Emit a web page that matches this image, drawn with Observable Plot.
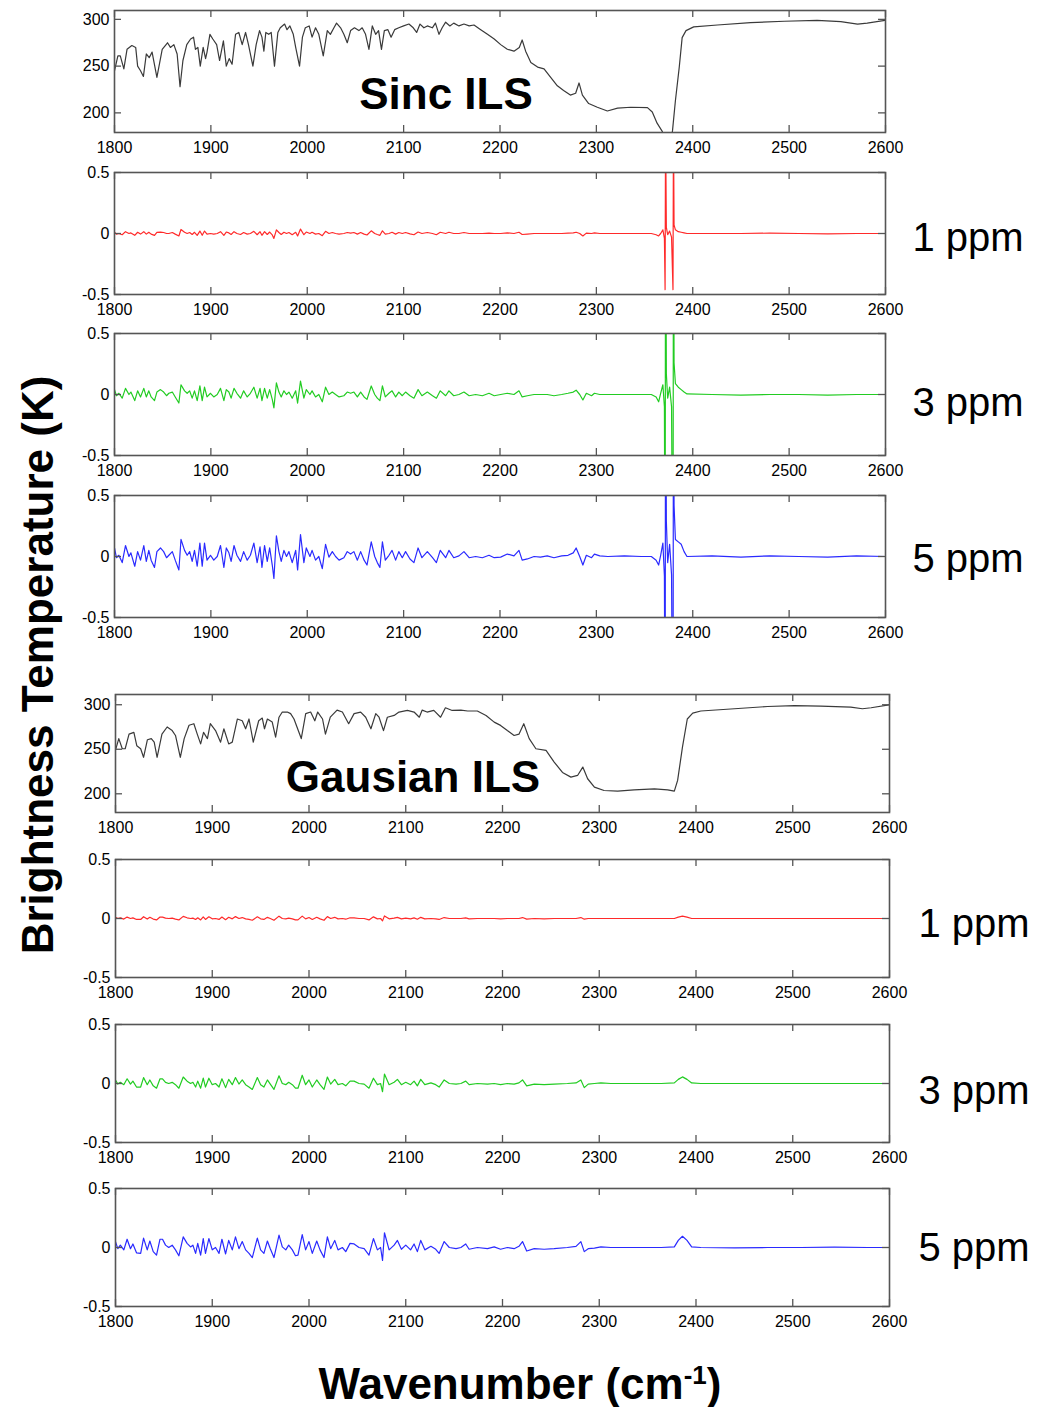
<!DOCTYPE html>
<html><head><meta charset="utf-8">
<script src="https://cdn.jsdelivr.net/npm/d3@7"></script>
<script src="https://cdn.jsdelivr.net/npm/@observablehq/plot@0.6"></script>
<style>
html,body{margin:0;padding:0;background:#fff;overflow:hidden}
#wrap{position:relative;width:1039px;height:1407px;font-family:"Liberation Sans",Arial,Helvetica,sans-serif;background:#fff}
.lab{position:absolute;transform:translate(-50%,-50%);white-space:nowrap;line-height:1;color:#000}
.panel{position:absolute;left:0}
</style></head><body><div id="wrap"></div>
<script>
// ---------- tick labels ----------
const xTicks = [1800,1900,2000,2100,2200,2300,2400,2500,2600];
const specTicks = [200,250,300];
const resTicks = [-0.5,0,0.5];

// ---------- Sinc ILS brightness temperature spectrum (K) ----------
const sincSpecX = [1800,1803.5,1806,1809.7,1813,1818,1822,1824,1827,1830,1833,1836,1839,1844,1849.5,1855,1858,1861.6,1865,1868,1871,1875,1879,1882,1884,1886.5,1889,1892,1894.5,1896,1899,1902,1906,1909,1913,1916,1919,1922,1925.6,1929,1932.5,1936,1939,1943.6,1947,1950.5,1953,1955,1957,1960,1962.6,1966,1969.5,1972,1976.5,1979,1982,1985.5,1988,1992,1995,1998,2002,2005,2008.6,2012,2016.6,2020.8,2024,2027.7,2030.4,2034.6,2038,2041.5,2045,2049,2053.6,2057,2060.5,2064,2067.5,2071,2074,2077,2080,2083.7,2087,2090.7,2095,2100,2105.5,2110,2113.5,2117,2121,2124.6,2129.8,2133,2136.7,2140,2143.6,2148,2152,2157.4,2162.6,2168,2173,2180,2187,2194,2200.7,2207.6,2214.5,2220,2223,2226.6,2232,2239,2245.7,2252.6,2259.5,2266,2273,2278.5,2282,2285.5,2292,2301,2311.4,2322,2335.6,2353,2358,2363,2368.5,2372,2376,2379,2382,2386,2389,2393,2401,2425.6,2460,2495,2529,2553.6,2571,2581,2600];
const sincSpecY = [245,261,261,247,268,272,270,250,245,239,263,259,265,238,268,275,270,273,263,228,256,273,279,281,268,270,250,270,258,265,284,279,273,256,277,250,258,252,284,286,273,286,273,250,273,288,281,266,286,284,286,250,286,291,295,289,293,284,270,250,281,291,293,281,291,284,261,288,284,291,296,291,284,275,288,291,288,291,284,268,293,284,288,268,288,289,281,289,291,293,295,291,286,295,291,293,291,296,284,291,297,293,296,293,295,293,294,289,284,279,273,268,266,270,278,266,254,249,247,238,229,224,219,221,232,219,210,206,202,205,206,205.6,201,189,180,165,160,181,213,249,280.5,288,292,294,296.5,298,299,297.5,295,296,299];

// ---------- Gaussian ILS brightness temperature spectrum (K) ----------
const gaussSpecX = [1800,1803.4,1807,1810,1814,1819,1822,1826,1829,1833,1837,1840,1843,1848,1853.4,1858.6,1862,1867,1871,1876,1881,1884.5,1888,1891,1895,1898,1903.4,1908.6,1912,1917,1920.7,1926,1931,1934.5,1938,1942.4,1948,1951.7,1954,1957,1962,1965.5,1969,1972.4,1977.6,1981,1984.5,1992,1996.6,2001.7,2006,2009,2014,2017,2022,2029,2034.5,2041,2046.6,2053.4,2058.6,2064,2069,2072.4,2077,2081,2088,2093,2101.7,2108.6,2114,2117,2122,2129,2136,2141,2148,2157,2164,2174,2183,2191.4,2198,2205,2212,2217,2222,2227.6,2234.5,2245,2253.4,2262,2270.7,2277.6,2283,2288,2295,2305,2319,2336,2357,2370.7,2377.6,2381,2386,2391,2396.6,2405,2439.7,2474,2501.7,2529,2560,2572,2581,2600];
const gaussSpecY = [249,262,250.6,250.6,267,269,254,250.6,241,260.7,262,258,241,267,275,271,265.5,241,262,277,278.7,267,256,269,262,278.7,271,258,273,256,258,284,282,273,284,258,282,285,273,284,280.5,263.7,286,291.8,291.8,290,284,262,290,291.8,282,291.8,284,267,286,294,291.8,278.7,290,291.8,286,273,290,286,271,286,288,291.8,293.6,291.8,286,294,291.8,293.6,286,296.6,293.6,294,293,293,288,280.5,276.8,271,265.5,267,278.7,262,250.6,248.7,235.6,224,218.7,220.6,230,216.9,207.5,203.7,203,204.5,205.6,204.5,203,215,252.4,284,290.6,293,295.5,298,299,298.5,297.4,295.5,296.6,300];

// ---------- Sinc ILS residuals (K): wavenumbers, 1/3/5 ppm ----------
const sincX = [1800,1802,1804.5,1808,1811.4,1815,1817,1821,1824,1827,
1830.4,1833,1835.6,1838,1841.5,1844,1847.7,1851,1854,1856.4,
1860,1863,1866.8,1869,1872.7,1875.4,1878,1880.6,1883,1885.8,
1888.6,1891,1893.4,1896,1899.6,1903,1906.6,1910,1913.5,1916,
1918.7,1921,1924,1927,1930.8,1934,1937.7,1941,1944.6,1948,
1951,1953,1955.7,1958.5,1961,1963.7,1965.4,1968,1970.6,1973,
1975.8,1978.5,1981,1984.4,1988,1990,1993,1996.5,1999,2002.8,
2005,2008.6,2012,2015.6,2019,2022.5,2026,2029.4,2033,2038,
2041.5,2045,2048.4,2052,2055.4,2059,2062,2066.4,2070,2072.7,
2075.4,2078,2081,2084.8,2088,2091.7,2095,2098.6,2102,2106.6,
2110.7,2115,2119,2124.6,2130,2134,2138,2143.6,2147,2152,
2157.4,2162.6,2168,2174.7,2181.7,2188.6,2194,2200.7,2207.6,2214.5,
2219.7,2223,2228.4,2235.3,2242,2249,2256,2264,2270.6,2276,
2279,2282.7,2286,2289.6,2295,2298,2303.5,2312,2329,2346.6,
2357,2362,2364.6,2366.7,2369,2370.6,2371.3,2371.8,2372.6,2374,
2376,2378,2379.5,2380,2380.6,2382,2385,2388,2391,2394,
2420,2450,2480,2510,2540,2570,2600];
const sinc1 = [0.01,-0.005,0,-0.01,0.015,0,0.005,-0.015,0.01,-0.005,
0.015,-0.005,0.01,-0.005,-0.015,0.01,0.012,0.008,0,0,
0.008,-0.005,-0.02,0.033,0.01,0,0.008,-0.008,0.01,-0.015,
0.02,-0.015,0.02,-0.005,0,-0.005,0,0.015,-0.015,0.012,
0.005,-0.008,0.015,0,-0.008,0.008,-0.005,0,0.018,-0.01,
0.015,-0.015,0.015,-0.008,0.012,-0.012,-0.04,0.03,0.008,-0.008,
0.01,0,0.008,-0.01,0.01,-0.02,0.036,-0.01,0.012,0,
0.01,-0.005,0,-0.018,0.018,0,0.008,0,-0.005,0,
0.008,0.003,0.008,-0.005,0.008,-0.005,-0.012,0.022,0,-0.008,
-0.015,0.022,-0.005,0,0.01,-0.005,0.008,0,0.008,-0.003,
-0.01,0.012,0,0.008,0,-0.01,0.01,0,0.01,0,
0,0.008,0,0,0,0.003,0,0,0.005,0,
0.01,-0.008,-0.005,0,0,0,0,0,0.003,0.005,
0.01,0,-0.02,0.003,0,0.005,0,0,0,0,
0,-0.01,-0.02,0,0.03,-0.04,-0.46,0.9,0.05,-0.01,
0.02,-0.03,-0.46,0.9,0.07,0.03,0.015,0.01,0.005,0,
0,0,0.003,0,-0.003,0,0];
const sinc3 = [0.04,-0.01,0.01,-0.03,0.05,0,0.02,-0.05,0.03,-0.02,
0.05,-0.02,0.03,-0.02,-0.05,0.02,0.04,0.02,-0.01,0.01,
0.02,-0.02,-0.07,0.08,0.03,0.01,0.03,-0.03,0.03,-0.05,
0.07,-0.05,0.06,-0.02,0.01,-0.02,0,0.05,-0.05,0.04,
0.02,-0.03,0.05,0.01,-0.03,0.03,-0.02,0.01,0.06,-0.03,
0.05,-0.05,0.05,-0.03,0.04,-0.04,-0.11,0.095,0.02,-0.02,
0.03,0,0.02,-0.03,0.03,-0.07,0.11,-0.03,0.04,0,
0.03,-0.02,0,-0.06,0.06,0,0.02,0,-0.02,-0.01,
0.02,0.01,0.02,-0.02,0.02,-0.02,-0.04,0.07,0,-0.03,
-0.05,0.07,-0.02,0.01,0.03,-0.02,0.02,-0.01,0.02,-0.01,
-0.03,0.04,-0.01,0.02,-0.01,-0.03,0.03,-0.01,0.03,-0.01,
0,0.02,-0.01,0,-0.01,0.01,-0.01,0,0.01,0,
0.03,-0.02,-0.01,0,0,0,-0.01,0,0.01,0.02,
0.035,0,-0.045,0.01,-0.01,0.01,0,0,0,0,
0,-0.02,-0.06,0.01,0.08,-0.1,-2,2,0.17,-0.03,
0.06,-0.1,-2,2,0.26,0.09,0.06,0.04,0.02,0.005,
0,-0.005,0,0,-0.005,0,0];
const sinc5 = [0.07,-0.01,0.01,-0.05,0.09,0,0.03,-0.08,0.04,-0.03,
0.09,-0.04,0.05,-0.03,-0.09,0.04,0.07,0.04,-0.01,0.01,
0.04,-0.03,-0.11,0.14,0.05,0.01,0.04,-0.04,0.05,-0.08,
0.11,-0.08,0.11,-0.03,0.01,-0.03,0,0.09,-0.09,0.07,
0.03,-0.04,0.09,0.01,-0.04,0.04,-0.03,0.01,0.11,-0.05,
0.08,-0.09,0.09,-0.04,0.07,-0.07,-0.18,0.17,0.04,-0.04,
0.05,0,0.04,-0.05,0.05,-0.11,0.18,-0.05,0.07,0,
0.05,-0.03,0,-0.1,0.1,-0.005,0.04,0,-0.03,-0.01,
0.04,0.02,0.04,-0.03,0.04,-0.03,-0.07,0.12,0,-0.05,
-0.09,0.12,-0.03,0.01,0.05,-0.03,0.04,-0.01,0.04,-0.02,
-0.05,0.07,-0.01,0.04,-0.01,-0.05,0.05,-0.01,0.05,-0.01,
0.005,0.04,-0.01,0,-0.01,0.01,-0.01,-0.005,0.02,0.005,
0.05,-0.03,-0.02,0,-0.005,0.005,-0.01,0.005,0.01,0.03,
0.07,0,-0.07,0.01,-0.01,0.02,0.005,0,0.005,0,
0,-0.03,-0.07,0.01,0.11,-0.16,-2,2,0.29,-0.05,
0.1,-0.15,-2,2,0.42,0.14,0.12,0.1,0.04,0,
0.005,-0.005,0.005,0,-0.005,0.005,0];

// ---------- Gaussian ILS residuals (K): wavenumbers, 1/3/5 ppm ----------
const gaussX = [1800,1802.4,1805,1808.6,1812,1815.5,1818,1821.7,1826,1829,
1832.8,1835.5,1839,1842.4,1846,1848.6,1851.7,1855,1858.6,1862,
1865.5,1870,1874,1877.6,1880,1882.8,1885,1888,1890.7,1893,
1896.5,1900,1903.4,1907,1910,1913.8,1917,1920.7,1924,1927.6,
1931,1934.5,1938,1941.4,1946.6,1950,1953.4,1957,1960,1963.8,
1969,1972.4,1976,1979,1982.8,1986,1988.6,1993,1996.5,2000,
2003.4,2008,2011.4,2015.5,2019,2022.4,2026.6,2030,2034.5,2038,
2042.4,2046.6,2051.7,2057,2062,2066.6,2070.7,2074,2076,2078,
2082.8,2088,2091.4,2095.5,2100,2105,2108.6,2112,2115.5,2119.7,
2126,2131,2134.5,2139.7,2145,2152,2157,2162,2165.5,2174,
2184.5,2191.4,2198,2205,2212,2217,2220.7,2225,2232.8,2243,
2253.4,2267,2276,2281,2284.5,2288.6,2295,2301.7,2312,2336,
2364,2377.6,2381.7,2386,2390.7,2395.5,2405,2439.7,2474,2508.6,
2543,2577.6,2600];
const gauss1 = [0.01,0,0.005,-0.005,0.012,0,0.005,-0.008,-0.008,0.015,
-0.005,0.01,-0.005,-0.012,0.012,0.012,0.003,0,0.003,-0.005,
-0.012,0.018,0.006,0,0.003,-0.008,0.006,-0.012,0.014,-0.008,
0.014,-0.003,0,-0.008,0.012,-0.01,0.01,-0.003,0.016,0,
0.008,-0.003,-0.008,-0.015,0.014,-0.003,-0.008,0.01,0,-0.015,
0.02,0,-0.003,0.003,-0.003,-0.012,-0.012,0.02,-0.003,0.008,
-0.008,0.01,-0.003,-0.015,0.016,0,0.01,-0.003,0,-0.006,
0.006,0.005,0,0,-0.012,0.014,-0.003,0,-0.02,0.022,
-0.003,0.003,0.01,-0.003,0.003,-0.003,0.005,-0.006,0.01,-0.003,
0,-0.003,-0.008,0.008,0,0,0,0.005,-0.003,0,
0,0,-0.003,0,0,0,0.008,-0.005,0,-0.003,
0,0,0,0.008,-0.006,0,0,0,0,0,
0,0,0.012,0.02,0.012,0,0,0,0,0,
0,0,0];
const gauss3 = [0.03,-0.005,0.01,-0.01,0.04,-0.005,0.02,-0.03,-0.03,0.05,
-0.01,0.03,-0.02,-0.04,0.04,0.04,0.01,0,0.01,-0.01,
-0.04,0.055,0.02,0,0.01,-0.03,0.02,-0.04,0.045,-0.03,
0.045,-0.01,0,-0.03,0.04,-0.035,0.035,-0.01,0.05,-0.005,
0.03,-0.01,-0.03,-0.05,0.05,-0.01,-0.03,0.03,-0.005,-0.05,
0.065,0,-0.01,0.01,-0.01,-0.04,-0.04,0.07,-0.01,0.03,
-0.03,0.03,-0.01,-0.05,0.055,-0.005,0.035,-0.01,0,-0.02,
0.02,0.02,0,-0.005,-0.04,0.045,-0.01,0,-0.07,0.08,
-0.01,0.01,0.035,-0.01,0.01,-0.01,0.02,-0.02,0.035,-0.01,
0.005,-0.01,-0.03,0.03,0,-0.005,0,0.02,-0.01,0,
-0.005,0,-0.01,0,-0.005,0.005,0.03,-0.02,-0.005,-0.01,
-0.005,0,0.005,0.03,-0.035,-0.005,0,0.005,0,0,
0,0.005,0.035,0.056,0.035,0.005,0,0,0,0,
0,0,0];
const gauss5 = [0.05,-0.01,0.02,-0.02,0.07,-0.01,0.03,-0.045,-0.05,0.08,
-0.02,0.055,-0.035,-0.065,0.07,0.07,0.02,0,0.02,-0.02,
-0.07,0.09,0.035,0.005,0.02,-0.05,0.035,-0.065,0.076,-0.05,
0.076,-0.02,0,-0.05,0.07,-0.055,0.06,-0.02,0.09,-0.01,
0.05,-0.02,-0.05,-0.085,0.08,-0.02,-0.05,0.055,-0.01,-0.085,
0.105,0.005,-0.02,0.02,-0.02,-0.07,-0.065,0.11,-0.02,0.05,
-0.05,0.055,-0.02,-0.085,0.09,-0.01,0.06,-0.02,0,-0.035,
0.035,0.03,0,-0.01,-0.065,0.076,-0.02,0,-0.11,0.125,
-0.02,0.02,0.06,-0.015,0.02,-0.02,0.03,-0.035,0.06,-0.02,
0.01,-0.015,-0.05,0.05,0,-0.01,0,0.03,-0.015,0,
-0.01,0.005,-0.015,0,-0.01,0.01,0.05,-0.03,-0.01,-0.015,
-0.01,0,0.01,0.05,-0.035,-0.01,-0.005,0.005,0,0,
0,0.005,0.06,0.095,0.06,0.005,0,-0.003,0,0,
0.003,0,0];

// ---------- helpers ----------
const zip = (xs, ys) => xs.map((x, i) => ({x, y: ys[i]}));
const W = 1039;
const FONT = "'Liberation Sans', Arial, Helvetica, sans-serif";
const FRAME = "#555";
const wrap = document.getElementById("wrap");
const fmt = d => String(d);

function panel({left, right, top, bottom, domain, yTicks, data, stroke, sw = 1.2}) {
  const mt = 12, mb = 32;
  const h = bottom - top, w = right - left, tl = 7;
  const p = Plot.plot({
    width: W, height: h + mt + mb,
    marginLeft: left, marginRight: W - right, marginTop: mt, marginBottom: mb,
    style: {fontFamily: FONT, fontSize: "16px", background: "transparent", overflow: "visible"},
    x: {domain: [1800, 2600], label: null},
    y: {domain, label: null},
    marks: [
      Plot.line(data, {x: "x", y: "y", stroke, strokeWidth: sw, clip: true}),
      Plot.tickX(xTicks, {x: d => d, insetBottom: h - tl, stroke: FRAME, strokeWidth: 1.3}),
      Plot.tickX(xTicks, {x: d => d, insetTop: h - tl, stroke: FRAME, strokeWidth: 1.3}),
      Plot.tickY(yTicks, {y: d => d, insetRight: w - tl, stroke: FRAME, strokeWidth: 1.3}),
      Plot.tickY(yTicks, {y: d => d, insetLeft: w - tl, stroke: FRAME, strokeWidth: 1.3}),
      Plot.frame({stroke: FRAME, strokeWidth: 1.6}),
      Plot.axisX({ticks: xTicks, tickSize: 0, tickPadding: 9, tickFormat: fmt, label: null, fontSize: 16, fill: "#000"}),
      Plot.axisY({ticks: yTicks, tickSize: 0, tickPadding: 5, tickFormat: fmt, label: null, fontSize: 16, fill: "#000"})
    ]
  });
  p.classList.add("panel");
  p.style.top = (top - mt) + "px";
  wrap.append(p);
}

const RED = "#ff2a2a", GREEN = "#22cc22", BLUE = "#2a2aff", GRAY = "#3a3a3a";
const res = [-0.5, 0.5];

panel({left: 114, right: 885, top: 10, bottom: 132, domain: [179, 309.5], yTicks: specTicks, data: zip(sincSpecX, sincSpecY), stroke: GRAY});
panel({left: 114, right: 885, top: 172, bottom: 294, domain: res, yTicks: resTicks, data: zip(sincX, sinc1), stroke: RED});
panel({left: 114, right: 885, top: 333, bottom: 455, domain: res, yTicks: resTicks, data: zip(sincX, sinc3), stroke: GREEN});
panel({left: 114, right: 885, top: 495, bottom: 617, domain: res, yTicks: resTicks, data: zip(sincX, sinc5), stroke: BLUE});
panel({left: 115, right: 889, top: 694, bottom: 812, domain: [179, 311.5], yTicks: specTicks, data: zip(gaussSpecX, gaussSpecY), stroke: GRAY});
panel({left: 115, right: 889, top: 859, bottom: 977, domain: res, yTicks: resTicks, data: zip(gaussX, gauss1), stroke: RED});
panel({left: 115, right: 889, top: 1024, bottom: 1142, domain: res, yTicks: resTicks, data: zip(gaussX, gauss3), stroke: GREEN});
panel({left: 115, right: 889, top: 1188, bottom: 1306, domain: res, yTicks: resTicks, data: zip(gaussX, gauss5), stroke: BLUE});

// ---------- text labels ----------
function label(html, x, y, css) {
  const d = document.createElement("div");
  d.className = "lab";
  d.innerHTML = html;
  d.style.left = x + "px";
  d.style.top = y + "px";
  Object.assign(d.style, css || {});
  wrap.append(d);
}
const big = {fontSize: "44px", fontWeight: "bold"};
const ppm = {fontSize: "40px"};
label("Sinc ILS", 446, 94, big);
label("Gausian ILS", 413, 777, big);
label("1 ppm", 968, 237, ppm);
label("3 ppm", 968, 402, ppm);
label("5 ppm", 968, 558, ppm);
label("1 ppm", 974, 923, ppm);
label("3 ppm", 974, 1090, ppm);
label("5 ppm", 974, 1247, ppm);
label("Brightness Temperature (K)", 38, 665, Object.assign({}, big, {transform: "translate(-50%,-50%) rotate(-90deg)"}));
label("Wavenumber (cm<span style='font-size:26px;position:relative;top:-15px'>-1</span>)", 520, 1384, big);
</script>
</body></html>
